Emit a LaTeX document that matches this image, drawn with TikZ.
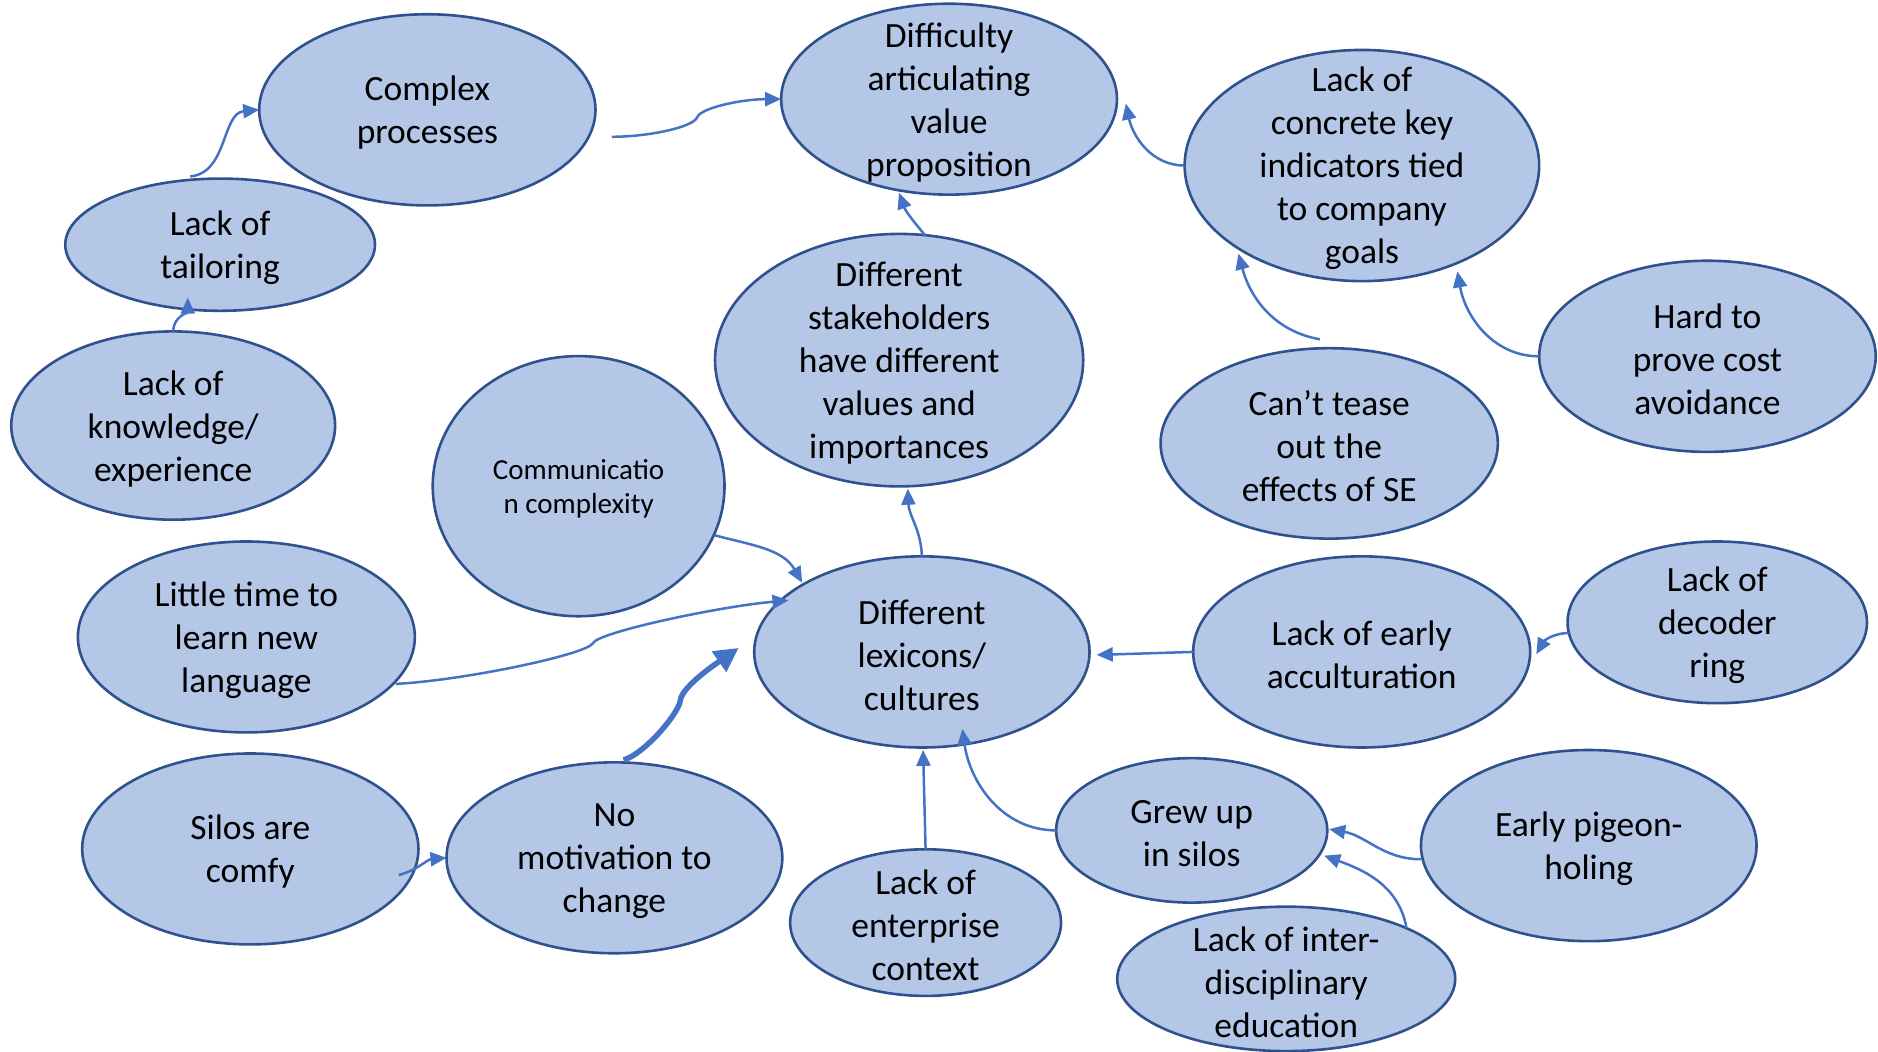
\documentclass[tikz,border=0pt]{standalone}
\usepackage{fontspec}
\setmainfont{Carlito}
\usetikzlibrary{shapes.geometric,arrows.meta,calc}

\definecolor{bubfill}{HTML}{B4C7E7}
\definecolor{bubline}{HTML}{2F528F}
\definecolor{arrcol}{HTML}{4472C4}

\tikzset{
  bub/.style={ellipse, draw=bubline, fill=bubfill, line width=2.6pt,
              inner sep=0pt, outer sep=0pt},
  txt/.style={align=center, font=\fontsize{35.5}{43}\selectfont, inner sep=0pt, yshift=-3pt},
  arr/.style={draw=arrcol, line width=2.5pt, -{Triangle[length=16pt,width=14pt]}},
  heavyarr/.style={draw=arrcol, line width=5.5pt, -{Triangle[length=24pt,width=24pt]}},
}

% bubble: [text style]{name}{x}{y}{x radius}{y radius}{text}
\newcommand\bub[7][]{%
  \node[bub, minimum width=#5*2.3954pt, minimum height=#6*2.3954pt] (#2) at (#3,#4) {};
  \node[txt,#1] (#2-t) at (#2) {#7};}

\begin{document}
\begin{tikzpicture}[x=1.1977pt,y=1.1977pt]
\useasboundingbox (0,0) rectangle (1568,-878);

% ---- causes (bubbles) ----
\bub{cp}{356.8}{-91.7}{140.4}{79.8}{Complex\\processes}
\bub{dav}{792.4}{-82.8}{140.2}{79.7}{Difficulty\\articulating\\value\\proposition}
\bub{lck}{1137.1}{-138.2}{148}{96.5}{Lack of\\concrete key\\indicators tied\\to company\\goals}
\bub{lt}{183.8}{-204.3}{129.3}{55.2}{Lack of\\tailoring}
\bub{lke}{144.6}{-355.3}{135.2}{78.6}{Lack of\\knowledge/\\experience}
\bub{dsh}{750.7}{-300.7}{153.7}{105.4}{Different\\stakeholders\\have different\\values and\\importances}
\bub[font=\fontsize{29}{34}\selectfont]{cc}{483.1}{-405.9}{121.8}{108.6}{Communicatio\\n complexity}
\bub{hpc}{1425.6}{-297.5}{140.5}{79.8}{Hard to\\prove cost\\avoidance}
\bub{cte}{1109.8}{-370.2}{140.8}{79.5}{Can’t tease\\out the\\effects of SE}
\bub{ltl}{205.7}{-531.8}{140.7}{79.7}{Little time to\\learn new\\language}
\bub{dlc}{769.7}{-544.3}{140}{79.8}{Different\\lexicons/\\cultures}
\bub{lea}{1136.9}{-544.3}{140.7}{79.8}{Lack of early\\acculturation}
\bub{ldr}{1433.8}{-519.6}{125}{67.5}{Lack of\\decoder\\ring}
\bub{sac}{209}{-708.8}{140.4}{79.7}{Silos are\\comfy}
\bub{nmc}{513}{-716.2}{140.2}{79.7}{No\\motivation to\\change}
\bub{lec}{772.8}{-770.3}{113.1}{61.2}{Lack of\\enterprise\\context}
\bub{gus}{995}{-693.3}{113.2}{60.3}{Grew up\\in silos}
\bub{eph}{1326.5}{-706}{140.1}{79.8}{Early pigeon-\\holing}
\bub{lid}{1073.9}{-817.3}{141.1}{60.3}{Lack of inter-\\disciplinary\\education}

% ---- influence links ----
\draw[arr] ($(lt)+(-25,57)$) to[out=5,in=185] (cp.west);
\draw[arr] (lke.north) to[out=90,in=270] ($(lt.south)+(-27,11)$);
\draw[arr] ($(cp)+(154,-22.5)$)
   to[out=0,in=250,out distance=38pt,in distance=10pt] ($(dav)+(-210.4,-15.2)$)
   to[out=70,in=180,out distance=10pt,in distance=40pt] (dav.west);
\draw[arr] (lck.west) to[out=180,in=282] ($(dav)+(147.6,-3.7)$);
\draw[arr] ($(dsh)+(22,103.9)$) to[out=130,in=290] ($(dav.south)+(-41.8,1.5)$);
\draw[arr] ($(cte)+(-7.8,86.9)$) to[out=170,in=285] ($(lck)+(-103.1,-73.5)$);
\draw[arr] (hpc.west) to[out=180,in=280] ($(lck)+(79.7,-88.4)$);
\draw[arr] (dlc.north) to[out=92,in=272] ($(dsh.south)+(7.3,-1.9)$);
\draw[arr] ($(cc)+(113.6,-41)$) to[out=-15,in=120] ($(dlc)+(-99.9,57.8)$);
\draw[arr] ($(ltl)+(124.7,-39.2)$)
   to[out=3,in=245,out distance=70pt,in distance=12pt] ($(dlc)+(-274.7,7.3)$)
   to[out=65,in=185,out distance=12pt,in distance=70pt] ($(dlc)+(-111.4,43)$);
\draw[heavyarr] ($(nmc.north)+(7.6,2)$)
   to[out=15,in=260,out distance=20pt,in distance=15pt] ($(dlc)+(-201.7,-40.7)$)
   to[out=85,in=215,out distance=15pt,in distance=20pt] ($(dlc)+(-153,3.3)$);
\draw[arr] ($(sac)+(123.9,-21.8)$) to[out=15,in=185] (nmc.west);
\draw[arr] (lea.west) -- ($(dlc.east)+(6,-2.5)$);
\draw[arr] ($(ldr.west)+(0.9,-8.9)$) to[out=180,in=60] ($(lea.east)+(5.1,-1.9)$);
\draw[arr] (lec.north) -- ($(dlc.south)+(1,-2)$);
\draw[arr] (gus.west) to[out=180,in=278] ($(dlc)+(33.8,-64.3)$);
\draw[arr] ($(eph.west)+(0,-11.4)$) to[out=180,in=-10] ($(gus.east)+(1.6,1)$);
\draw[arr] ($(lid)+(100.4,42.6)$) to[out=100,in=-20] ($(gus)+(110.6,-21.1)$);
\end{tikzpicture}
\end{document}
